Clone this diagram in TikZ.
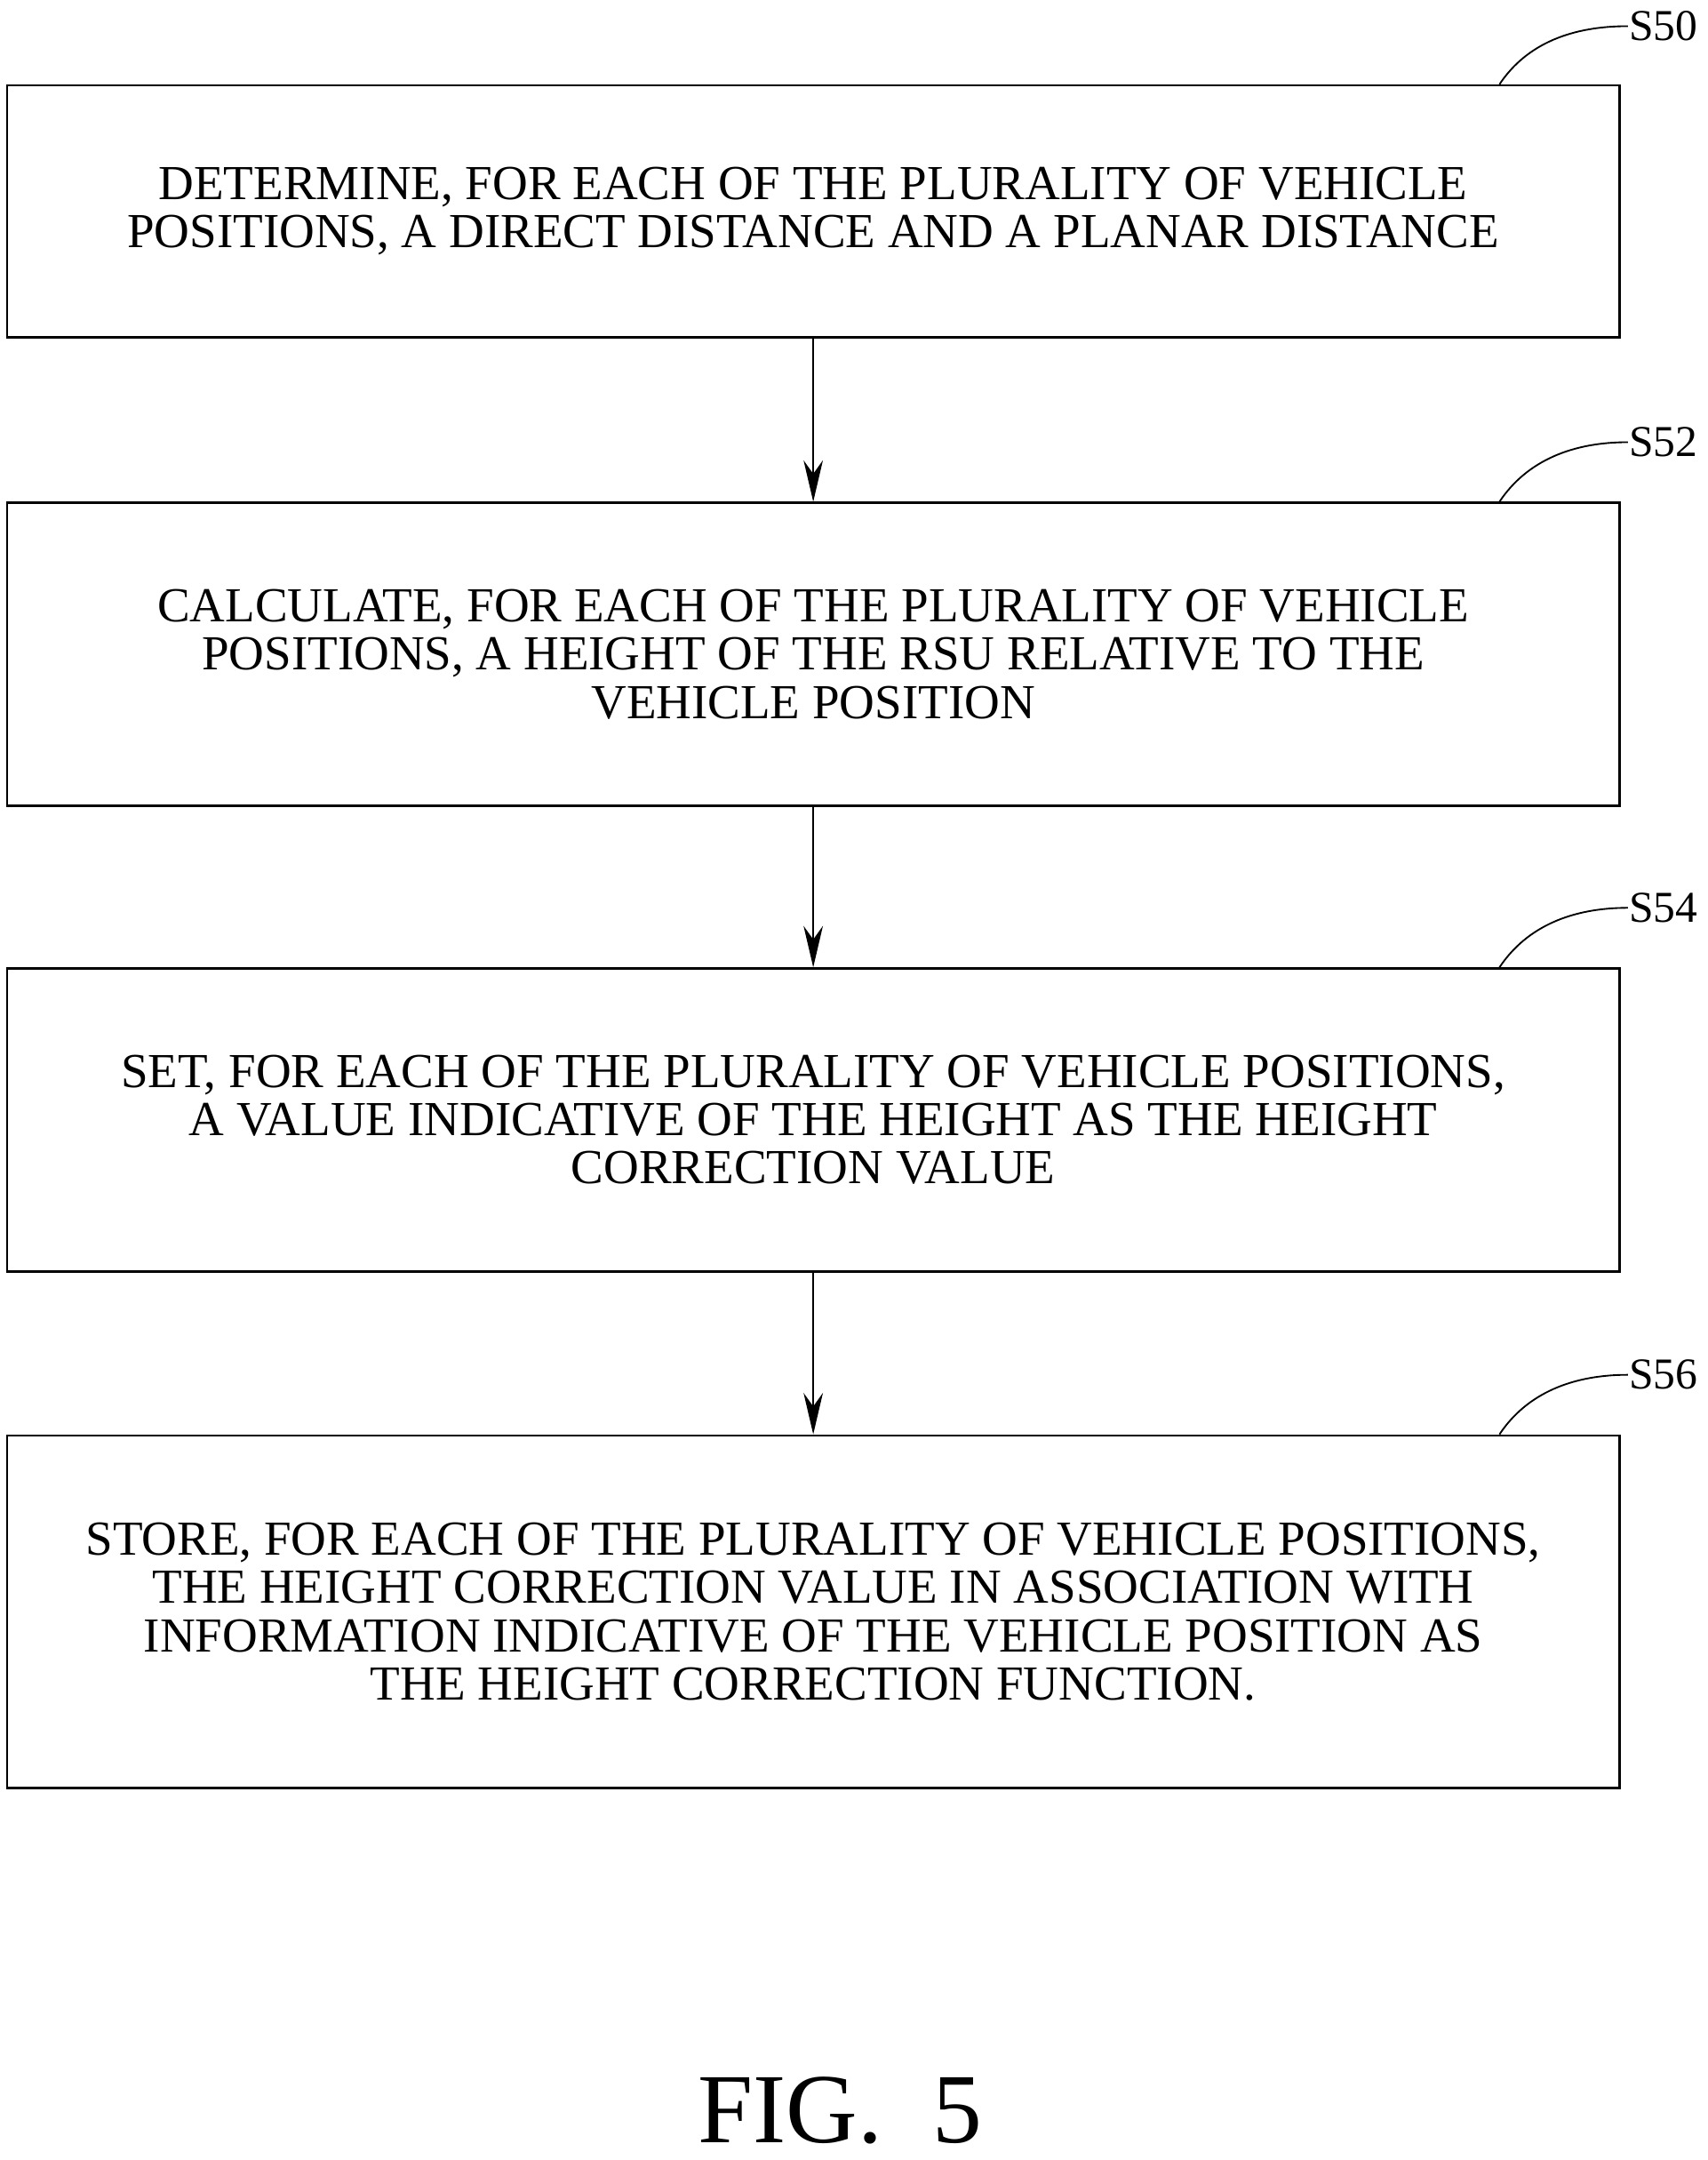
\documentclass[tikz,border=0pt]{standalone}
\usepackage{fontspec}
\setmainfont{Liberation Serif}
\usetikzlibrary{arrows.meta}
\tikzset{
  stepbox/.style={rectangle, draw, line width=1.6pt, minimum width=1171pt, align=center,
    font=\fontsize{35.5}{35}\selectfont},
  tag/.style={font=\fontsize{32}{35}\selectfont, anchor=west, inner sep=0pt},
}
\begin{document}
\begin{tikzpicture}[x=1pt, y=-1pt, >={Stealth[length=30pt,width=14pt]}, line width=1.6pt]
  \useasboundingbox (0,0) rectangle (1240,1568);
  % Blocks
  \node [stepbox, minimum height=183pt] (S50) at (590.5,153.5) {DETERMINE, FOR EACH OF THE PLURALITY OF VEHICLE\\POSITIONS, A DIRECT DISTANCE AND A PLANAR DISTANCE};
  \node [stepbox, minimum height=220pt] (S52) at (590.5,475) {CALCULATE, FOR EACH OF THE PLURALITY OF VEHICLE\\POSITIONS, A HEIGHT OF THE RSU RELATIVE TO THE\\VEHICLE POSITION};
  \node [stepbox, minimum height=220pt] (S54) at (590.5,813) {SET, FOR EACH OF THE PLURALITY OF VEHICLE POSITIONS,\\A VALUE INDICATIVE OF THE HEIGHT AS THE HEIGHT\\CORRECTION VALUE};
  \node [stepbox, minimum height=256pt] (S56) at (590.5,1170) {STORE, FOR EACH OF THE PLURALITY OF VEHICLE POSITIONS,\\THE HEIGHT CORRECTION VALUE IN ASSOCIATION WITH\\INFORMATION INDICATIVE OF THE VEHICLE POSITION AS\\THE HEIGHT CORRECTION FUNCTION.};

  % Step labels
  \foreach \s/\y in {S50/19, S52/321, S54/659, S56/998}{
    \node [tag] (l\s) at (1182,\y) {\s};
    \draw [line width=1.2pt] ([xshift=-88pt]\s.north east) .. controls +(20,-30) and +(-40,0) .. (l\s.west);
  }

  % Connections
  \draw [->] (S50) -- (S52);
  \draw [->] (S52) -- (S54);
  \draw [->] (S54) -- (S56);

  \node [font=\fontsize{72}{80}\selectfont] (fig) at (610,1532) {FIG.\ \ 5};
\end{tikzpicture}
\end{document}
